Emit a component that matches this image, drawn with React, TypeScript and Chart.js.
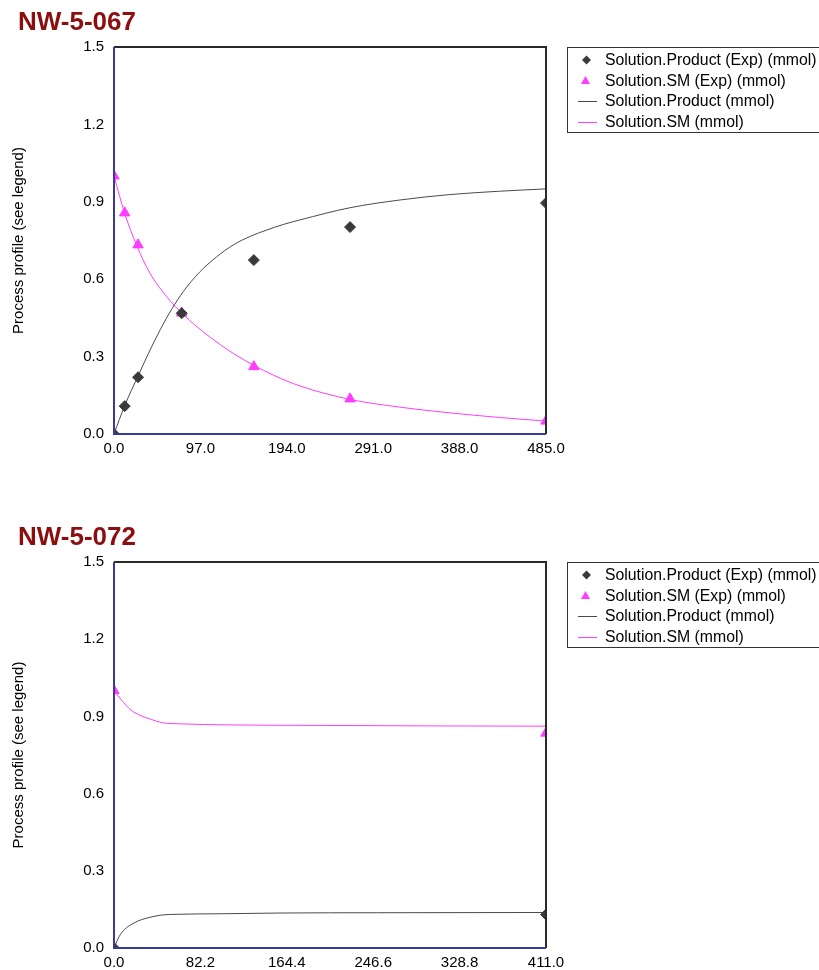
import React, { useEffect, useRef } from "react";
import { Chart, registerables } from "chart.js";
Chart.register(...registerables);

const FONT = "Arial, 'Liberation Sans', sans-serif";

// ---- shared axis / legend data ----
const yTicks = [0, 0.3, 0.6, 0.9, 1.2, 1.5];
const legendLabels = [
  "Solution.Product (Exp) (mmol)",
  "Solution.SM (Exp) (mmol)",
  "Solution.Product (mmol)",
  "Solution.SM (mmol)",
];

// ---- NW-5-067 ----
const titleA = "NW-5-067";
const xTicksA = [0, 97, 194, 291, 388, 485];
const expTimeA = [0, 12, 27, 76, 157, 265, 485];
const prodExpA = [0, 0.108, 0.22, 0.468, 0.674, 0.802, 0.895];
const smExpA = [1.0, 0.857, 0.733, 0.469, 0.261, 0.136, 0.05];
const prodTimeA = [0, 12, 28, 40, 52, 65, 78, 96, 115, 134, 153, 171, 190, 209, 265, 321, 377, 433, 485];
const prodModelA = [0, 0.11, 0.232, 0.322, 0.405, 0.485, 0.553, 0.627, 0.686, 0.733, 0.766, 0.79, 0.812, 0.83, 0.877, 0.907, 0.928, 0.941, 0.95];
const smTimeA = [0, 12, 25, 40, 55, 70, 85, 108, 134, 156, 179, 209, 265, 321, 377, 433, 485];
const smModelA = [1.0, 0.855, 0.735, 0.625, 0.55, 0.49, 0.44, 0.375, 0.312, 0.268, 0.228, 0.186, 0.134, 0.104, 0.082, 0.064, 0.05];

// ---- NW-5-072 ----
const titleB = "NW-5-072";
const xTicksB = [0, 82.2, 164.4, 246.6, 328.8, 411];
const expTimeB = [0, 411];
const prodExpB = [0, 0.13];
const smExpB = [1.0, 0.835];
const prodTimeB = [0, 5, 10, 18, 26, 35, 45, 60, 100, 160, 250, 411];
const prodModelB = [0, 0.045, 0.072, 0.095, 0.11, 0.12, 0.128, 0.131, 0.133, 0.136, 0.137, 0.138];
const smTimeB = [0, 7, 16, 26, 35, 45, 64, 108, 200, 300, 411];
const smModelB = [1.0, 0.964, 0.925, 0.902, 0.889, 0.876, 0.871, 0.867, 0.865, 0.863, 0.862];

const PROD_COLOR = "#3a3a3a";
const PROD_LINE = "#4a4a4a";
const SM_COLOR = "#ff3cff";

const W = 819;
const H = 485;
const AREA_LEFT = 114;
const AREA_RIGHT = 546;
const X_AXIS_H = 20;

const zip = (xs: number[], ys: number[]) => xs.map((x, i) => ({ x, y: ys[i] }));

type PanelProps = {
  top: number;
  title: string;
  titleY: number;
  areaTop: number;
  areaBottom: number;
  xTicks: number[];
  expTime: number[];
  prodExp: number[];
  smExp: number[];
  prodTime: number[];
  prodModel: number[];
  smTime: number[];
  smModel: number[];
};

function makeDecor(p: PanelProps) {
  return {
    id: "decor",
    afterDraw(chart: any) {
      const { ctx } = chart;
      const { left, top, right, bottom } = chart.chartArea;
      ctx.save();
      // frame
      ctx.lineWidth = 2;
      ctx.strokeStyle = "#2a2a2a";
      ctx.beginPath();
      ctx.moveTo(left, top);
      ctx.lineTo(right, top);
      ctx.lineTo(right, bottom);
      ctx.stroke();
      ctx.strokeStyle = "#3a3a96";
      ctx.beginPath();
      ctx.moveTo(right, bottom);
      ctx.lineTo(left, bottom);
      ctx.lineTo(left, top);
      ctx.stroke();

      // title
      ctx.font = `bold 26px ${FONT}`;
      ctx.fillStyle = "#8b0f0f";
      ctx.textAlign = "left";
      ctx.textBaseline = "alphabetic";
      ctx.fillText(p.title, 18, p.titleY);

      // legend
      const bx = 567.5;
      const by = top + 0.5;
      ctx.lineWidth = 1;
      ctx.strokeStyle = "#333";
      ctx.strokeRect(bx, by, 300, 85);
      const rows = [13, 33.5, 54, 75];
      ctx.font = `15.8px ${FONT}`;
      ctx.textBaseline = "middle";
      rows.forEach((dy, i) => {
        const y = top + dy;
        if (i === 0) {
          ctx.fillStyle = PROD_COLOR;
          ctx.beginPath();
          ctx.moveTo(586.5, y - 4.5);
          ctx.lineTo(591, y);
          ctx.lineTo(586.5, y + 4.5);
          ctx.lineTo(582, y);
          ctx.closePath();
          ctx.fill();
        } else if (i === 1) {
          ctx.fillStyle = SM_COLOR;
          ctx.beginPath();
          ctx.moveTo(585.5, y - 4.5);
          ctx.lineTo(590, y + 3.5);
          ctx.lineTo(581, y + 3.5);
          ctx.closePath();
          ctx.fill();
        } else {
          ctx.strokeStyle = i === 2 ? PROD_LINE : SM_COLOR;
          ctx.lineWidth = 1;
          ctx.beginPath();
          ctx.moveTo(578, y + 0.5);
          ctx.lineTo(597, y + 0.5);
          ctx.stroke();
        }
        ctx.fillStyle = "#000";
        ctx.fillText(legendLabels[i], 605, y + 1);
      });
      ctx.restore();
    },
  };
}

function Panel(p: PanelProps) {
  const ref = useRef<HTMLCanvasElement>(null);
  useEffect(() => {
    const xMax = p.xTicks[p.xTicks.length - 1];
    const chart = new Chart(ref.current as HTMLCanvasElement, {
      type: "scatter",
      data: {
        datasets: [
          {
            label: legendLabels[0],
            data: zip(p.expTime, p.prodExp),
            pointStyle: "rectRot",
            pointRadius: 5.5,
            pointBackgroundColor: PROD_COLOR,
            pointBorderColor: PROD_COLOR,
            pointBorderWidth: 1,
            showLine: false,
          },
          {
            label: legendLabels[1],
            data: zip(p.expTime, p.smExp),
            pointStyle: "triangle",
            pointRadius: 6,
            pointBackgroundColor: SM_COLOR,
            pointBorderColor: SM_COLOR,
            pointBorderWidth: 1,
            showLine: false,
          },
          {
            label: legendLabels[2],
            data: zip(p.prodTime, p.prodModel),
            showLine: true,
            pointRadius: 0,
            borderColor: PROD_LINE,
            borderWidth: 1,
            cubicInterpolationMode: "monotone",
          },
          {
            label: legendLabels[3],
            data: zip(p.smTime, p.smModel),
            showLine: true,
            pointRadius: 0,
            borderColor: SM_COLOR,
            borderWidth: 1,
            cubicInterpolationMode: "monotone",
          },
        ],
      } as any,
      options: {
        animation: false,
        responsive: false,
        devicePixelRatio: 1,
        layout: {
          padding: {
            left: 0,
            top: p.areaTop,
            right: W - AREA_RIGHT,
            bottom: H - p.areaBottom - X_AXIS_H,
          },
        },
        plugins: {
          legend: { display: false },
          tooltip: { enabled: false },
        },
        scales: {
          x: {
            type: "linear",
            min: 0,
            max: xMax,
            grid: { display: false, drawTicks: false },
            border: { display: false },
            afterBuildTicks: (s: any) => {
              s.ticks = p.xTicks.map((v) => ({ value: v }));
            },
            afterFit: (s: any) => {
              s.height = X_AXIS_H;
            },
            ticks: {
              padding: 6,
              color: "#000",
              font: { family: FONT, size: 15 },
              maxRotation: 0,
              autoSkip: false,
              callback: (v: any) => Number(v).toFixed(1),
            },
          },
          y: {
            type: "linear",
            min: 0,
            max: 1.5,
            grid: { display: false, drawTicks: false },
            border: { display: false },
            afterBuildTicks: (s: any) => {
              s.ticks = yTicks.map((v) => ({ value: v }));
            },
            afterFit: (s: any) => {
              s.width = AREA_LEFT;
            },
            ticks: {
              padding: 10,
              color: "#000",
              font: { family: FONT, size: 15 },
              autoSkip: false,
              callback: (v: any) => Number(v).toFixed(1),
            },
            title: {
              display: true,
              text: "Process profile (see legend)",
              color: "#000",
              font: { family: FONT, size: 15 },
              padding: { top: 10, bottom: 0 },
            },
          },
        },
      } as any,
      plugins: [makeDecor(p)],
    });
    return () => chart.destroy();
  }, []);
  return (
    <canvas
      ref={ref}
      width={W}
      height={H}
      style={{ position: "absolute", left: 0, top: p.top, width: W, height: H }}
    />
  );
}

export default function App() {
  return (
    <div style={{ position: "absolute", left: 0, top: 0, width: W, height: 970, background: "#fff", overflow: "hidden" }}>
      <Panel
        top={0}
        title={titleA}
        titleY={30}
        areaTop={47}
        areaBottom={434}
        xTicks={xTicksA}
        expTime={expTimeA}
        prodExp={prodExpA}
        smExp={smExpA}
        prodTime={prodTimeA}
        prodModel={prodModelA}
        smTime={smTimeA}
        smModel={smModelA}
      />
      <Panel
        top={485}
        title={titleB}
        titleY={60}
        areaTop={77}
        areaBottom={463}
        xTicks={xTicksB}
        expTime={expTimeB}
        prodExp={prodExpB}
        smExp={smExpB}
        prodTime={prodTimeB}
        prodModel={prodModelB}
        smTime={smTimeB}
        smModel={smModelB}
      />
    </div>
  );
}
